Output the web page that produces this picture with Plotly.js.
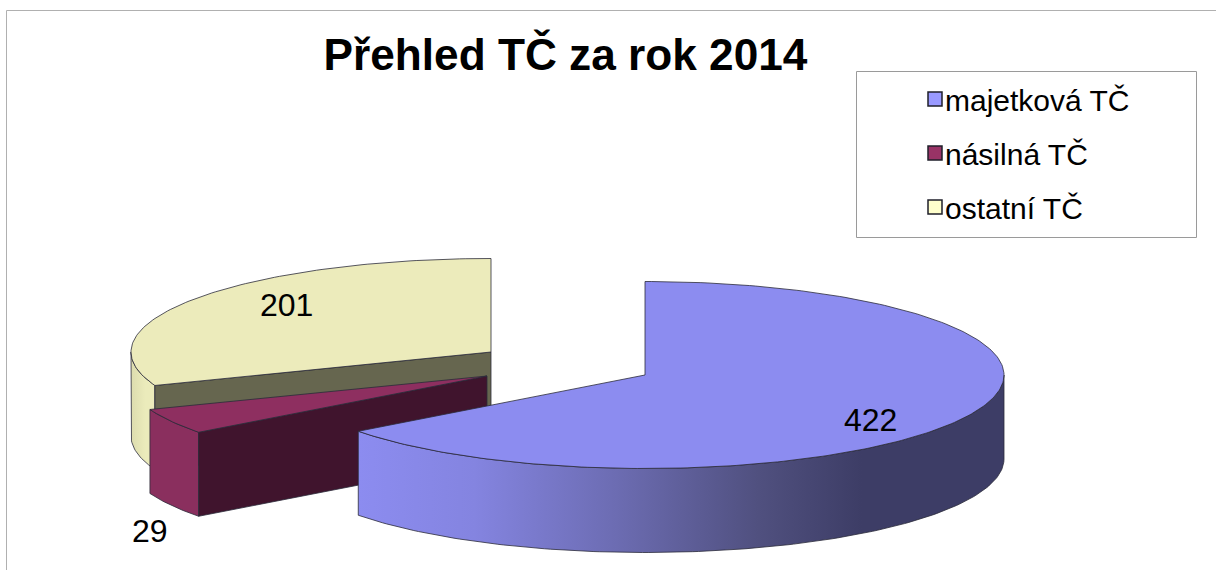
<!DOCTYPE html>
<html>
<head>
<meta charset="utf-8">
<script src="https://cdn.plot.ly/plotly-3.0.1.min.js"></script>
<style>html,body{margin:0;padding:0;background:#fff}#chart{width:1216px;height:570px}</style>
</head>
<body>
<div id="chart"></div>
<script>
// Data
const categories = ['majetková TČ', 'násilná TČ', 'ostatní TČ'];
const values = [422, 29, 201];
const chartTitle = 'Přehled TČ za rok 2014';

// Styling / projection of the tilted, exploded pie (no data here)
const W = 1216, H = 570, DEPTH = 84, RY = 93.5;
const centres = [[645, 375, 359], [487, 376, 361], [491, 352, 360]];
const swatch = ['#9999ff', '#993366', '#ffffcc'];
const topFill = ['#8c8cf0', '#8e2f60', '#ecebbb'];
const cutFill = [null, '#40142d', '#66664f'];
const arcFill = [
  {type: 'horizontal', colorscale: [[0, '#8c8cf0'], [0.18, '#8484e0'], [0.4, '#6c6cb2'], [0.62, '#50507f'], [0.78, '#3d3d66'], [1, '#3d3d66']]},
  {type: 'horizontal', colorscale: [[0, '#8a2f5e'], [1, '#8a2f5e']]},
  {type: 'horizontal', colorscale: [[0, '#dcdcae'], [0.6, '#ebebbb'], [1, '#ebebbb']]}
];
const labelPos = [[870, 420], [150, 531], [286, 305]];
const EDGE = {color: '#2b2b3a', width: 0.8};

const total = values.reduce((a, b) => a + b, 0);
const rad = d => d * Math.PI / 180;
function arc(c, a0, a1, dy) {
  const xs = [], ys = [];
  const n = Math.max(2, Math.ceil(Math.abs(a1 - a0)));
  for (let i = 0; i <= n; i++) {
    const a = rad(a0 + (a1 - a0) * i / n);
    xs.push(c[0] + c[2] * Math.sin(a));
    ys.push(c[1] - RY * Math.cos(a) + dy);
  }
  return [xs, ys];
}
function poly(xs, ys, style) {
  return Object.assign({x: xs, y: ys, mode: 'lines', fill: 'toself', line: EDGE,
    hoverinfo: 'skip', showlegend: false, type: 'scatter'}, style);
}

const angles = [];
let acc = 0;
values.forEach(v => { const a0 = acc / total * 360; acc += v; angles.push([a0, acc / total * 360]); });

const traces = [];
// Paint from the back slice to the front one
[2, 1, 0].forEach(i => {
  const c = centres[i], a0 = angles[i][0], a1 = angles[i][1];
  const sa = Math.max(a0, 90), sb = Math.min(a1, 270);
  // curved outer wall
  if (sb > sa) {
    const t = arc(c, sa, sb, 0), b = arc(c, sb, sa, DEPTH);
    traces.push(poly(t[0].concat(b[0], [t[0][0]]), t[1].concat(b[1], [t[1][0]]), {fillgradient: arcFill[i]}));
  }
  // flat cut wall facing the viewer
  if (cutFill[i]) {
    const p = arc(c, a0, a0, 0);
    const px = p[0][0], py = p[1][0];
    traces.push(poly([c[0], px, px, c[0], c[0]], [c[1], py, py + DEPTH, c[1] + DEPTH, c[1]], {fillcolor: cutFill[i]}));
  }
  // top face
  const o = arc(c, a0, a1, 0);
  traces.push(poly([c[0]].concat(o[0], [c[0]]), [c[1]].concat(o[1], [c[1]]), {fillcolor: topFill[i]}));
});
// Legend carriers: drawn off-range, only their legend entries are seen
categories.forEach((name, i) => {
  traces.push({x: [-50], y: [-50], name: name, legendgroup: name, mode: 'markers', type: 'scatter', hoverinfo: 'skip',
    marker: {symbol: 'square', size: 14, color: swatch[i], line: {color: '#1f1f2a', width: 1.5}}});
});

const layout = {
  width: W, height: H, margin: {l: 0, r: 0, t: 0, b: 0},
  paper_bgcolor: '#fff', plot_bgcolor: '#fff',
  font: {family: 'Liberation Sans, Arial, sans-serif', color: '#000'},
  title: {text: chartTitle, x: 565.5 / W, xanchor: 'center', xref: 'paper', y: 1 - 55 / H, yanchor: 'middle',
    font: {size: 44.2, family: 'Liberation Sans, Arial, sans-serif', weight: 700, color: '#000'}},
  xaxis: {range: [0, W], visible: false, fixedrange: true},
  yaxis: {range: [H, 0], visible: false, fixedrange: true},
  showlegend: true,
  legend: {x: 905 / W, y: 1 - 73 / H, xanchor: 'left', yanchor: 'top', bgcolor: 'rgba(0,0,0,0)', borderwidth: 0,
    font: {size: 30, color: '#000'}, tracegroupgap: 12, itemclick: false, itemdoubleclick: false},
  shapes: [
    {type: 'line', x0: 6.5, x1: 6.5, y0: 10.5, y1: H, line: {color: '#b0b0b0', width: 1}},
    {type: 'line', x0: 6.5, x1: W, y0: 10.5, y1: 10.5, line: {color: '#b0b0b0', width: 1}},
    {type: 'rect', x0: 856.5, x1: 1196.5, y0: 71.5, y1: 237.5, line: {color: '#9a9a9a', width: 1}, fillcolor: 'rgba(0,0,0,0)'}
  ],
  annotations: values.map((v, i) => ({x: labelPos[i][0], y: labelPos[i][1], text: String(v), showarrow: false,
    xanchor: 'center', yanchor: 'middle', font: {size: 32, color: '#000'}}))
};

Plotly.newPlot('chart', traces, layout, {displayModeBar: false, staticPlot: false}).then(() => {
  document.querySelectorAll('#chart .legendsymbols').forEach(el => el.setAttribute('transform', 'translate(10,0)'));
});
</script>
</body>
</html>
